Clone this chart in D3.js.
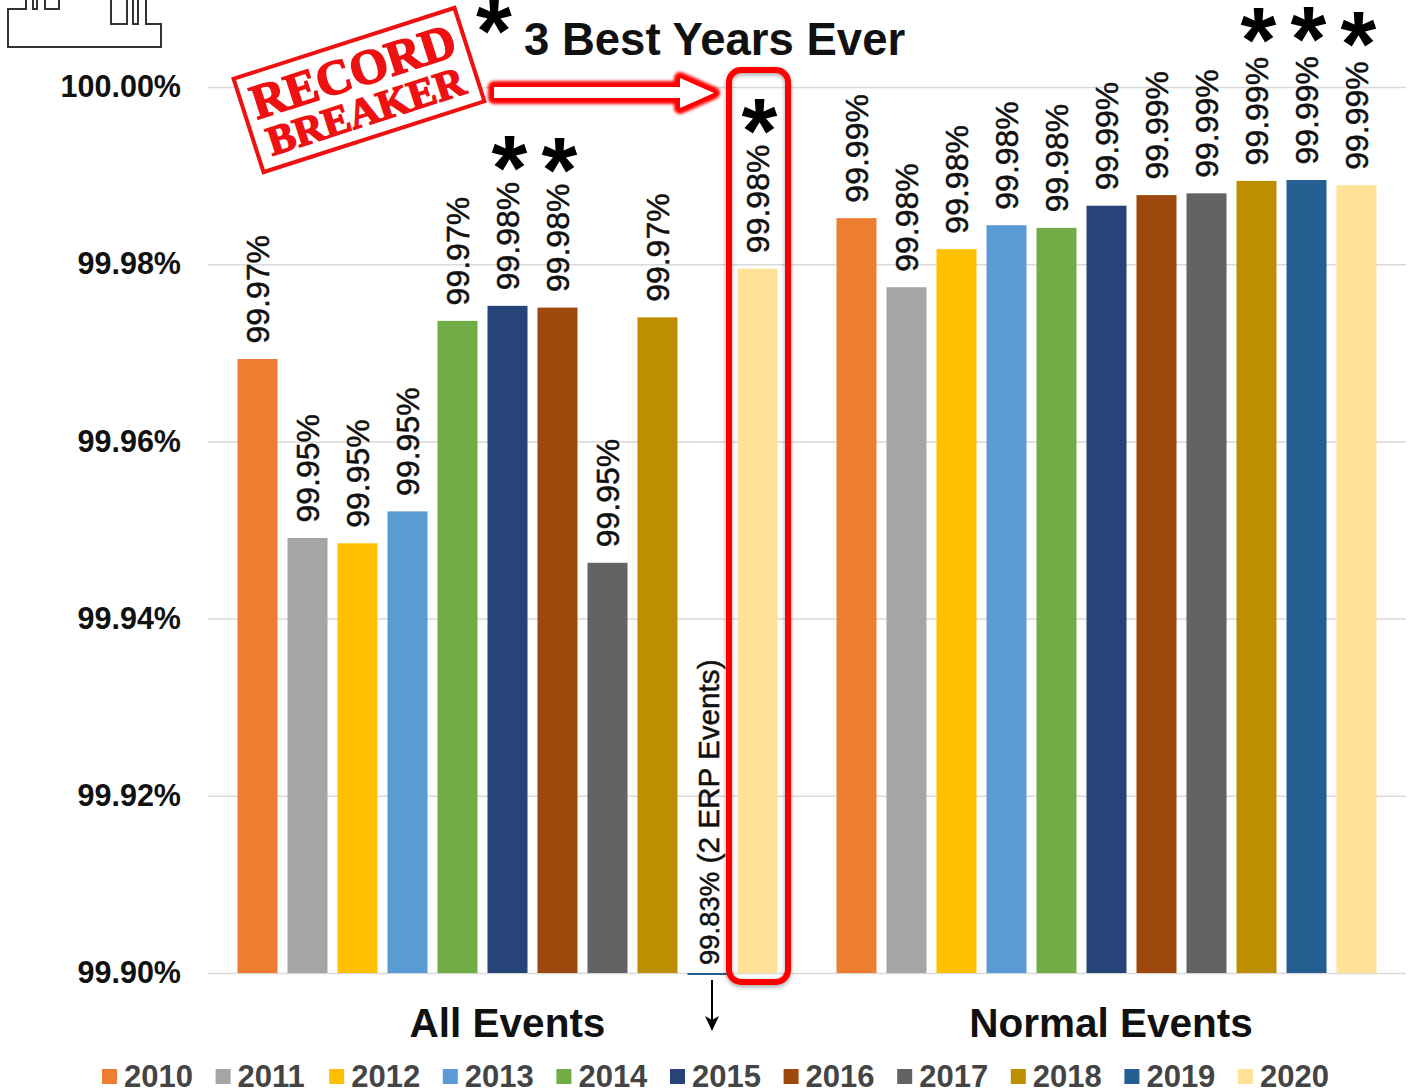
<!DOCTYPE html>
<html>
<head>
<meta charset="utf-8">
<script src="https://cdn.jsdelivr.net/npm/d3@7"></script>
<style>
  body { margin: 0; background: #fff; }
  text { font-family: "Liberation Sans", Arial, sans-serif; }
</style>
</head>
<body>
<script>
// categories and values
var groups = ["All Events", "Normal Events"];
var years = ["2010", "2011", "2012", "2013", "2014", "2015", "2016", "2017", "2018", "2019", "2020"];
var colors = ["#ed7d31", "#a5a5a5", "#ffc000", "#5b9bd5", "#70ad47", "#264478", "#9e480e", "#636363", "#bd8f00", "#255e91", "#ffe296"];

var allEvents = [99.9693, 99.9491, 99.9485, 99.9521, 99.9736, 99.9753, 99.9751, 99.9463, 99.9740, 99.83, 99.9795];
var normalEvents = [99.9852, 99.9774, 99.9817, 99.9844, 99.9841, 99.9866, 99.9878, 99.9880, 99.9894, 99.9895, 99.9889];

var allLabels = ["99.97%", "99.95%", "99.95%", "99.95%", "99.97%", "99.98%", "99.98%", "99.95%", "99.97%", "99.83%", "99.98%"];
var normalLabels = ["99.99%", "99.98%", "99.98%", "99.98%", "99.98%", "99.99%", "99.99%", "99.99%", "99.99%", "99.99%", "99.99%"];
var offScaleNote = " (2 ERP Events)";

var yTicks = [99.90, 99.92, 99.94, 99.96, 99.98, 100];

// which bars get a star on top
var allStars = ["2015", "2016", "2020"];
var normalStars = ["2018", "2019", "2020"];

var width = 1409, height = 1090;
var yMin = yTicks[0];

var svg = d3.select("body").append("svg")
    .attr("width", width)
    .attr("height", height)
    .style("display", "block");

var defs = svg.append("defs");
defs.append("filter").attr("id", "soft")
    .attr("x", "-20%").attr("y", "-50%").attr("width", "140%").attr("height", "200%")
    .append("feGaussianBlur").attr("stdDeviation", 1.4);
var shadow = defs.append("filter").attr("id", "shadow")
    .attr("x", "-20%").attr("y", "-5%").attr("width", "140%").attr("height", "110%");
shadow.append("feDropShadow")
    .attr("dx", 0).attr("dy", 2).attr("stdDeviation", 2)
    .attr("flood-color", "#000").attr("flood-opacity", 0.35);

var y = d3.scaleLinear().domain([yMin, 100]).range([973, 87]).clamp(true);
var x0 = d3.scaleBand().domain(groups).range([208, 1406]);
var x1 = d3.scaleBand().domain(years).range([0, x0.bandwidth()])
    .paddingInner(0.2).paddingOuter(0.59);
var color = d3.scaleOrdinal().domain(years).range(colors);

// y axis + gridlines
var axis = svg.append("g")
    .attr("transform", "translate(208,0)")
    .call(d3.axisLeft(y)
        .tickValues(yTicks)
        .tickSize(-1198)
        .tickPadding(27)
        .tickFormat(function (d) { return d3.format(".2f")(d) + "%"; }));
axis.select(".domain").remove();
axis.selectAll(".tick line").attr("stroke", "#d9d9d9").attr("stroke-width", 1.5);
axis.selectAll(".tick text")
    .attr("fill", "#111")
    .style("font-size", "30.5px")
    .style("font-weight", "bold")
    .style("font-family", "'Liberation Sans', Arial, sans-serif");

function drawGroup(name, values, labels, stars, starLift) {
    var g = svg.append("g").attr("transform", "translate(" + x0(name) + ",0)");

    g.selectAll("rect.bar")
        .data(values)
        .enter()
        .append("rect")
        .attr("class", "bar")
        .attr("x", function (d, i) { return x1(years[i]); })
        .attr("y", function (d) { return y(d); })
        .attr("width", x1.bandwidth())
        // off-scale bar still shows as a sliver on the baseline
        .attr("height", function (d) { return Math.max(y(yMin) - y(d), 2); })
        .attr("fill", function (d, i) { return color(years[i]); });

    var labelsText = g.selectAll("text.value")
        .data(values)
        .enter()
        .append("text")
        .attr("class", "value")
        .attr("transform", function (d, i) {
            var gap = d < yMin ? 8 : 15.5;
            return "translate(" + (x1(years[i]) + x1.bandwidth() / 2 + 11) + "," + (y(d) - gap) + ") rotate(-90)";
        })
        .attr("fill", "#111")
        .attr("stroke", "#111")
        .attr("stroke-width", 0.5)
        .style("font-size", function (d) { return d < yMin ? "27.5px" : "32px"; })
        .text(function (d, i) { return labels[i]; });

    labelsText.filter(function (d) { return d < yMin; })
        .append("tspan")
        .style("font-size", "29.7px")
        .text(offScaleNote);

    g.selectAll("text.star")
        .data(stars)
        .enter()
        .append("text")
        .attr("class", "star")
        .attr("x", function (d) { return x1(d) + x1.bandwidth() / 2 + 2; })
        .attr("y", function (d) { return y(values[years.indexOf(d)]) - starLift + 42; })
        .attr("text-anchor", "middle")
        .attr("fill", "#000")
        .style("font-size", "92px")
        .style("font-weight", "bold")
        .text("*");

    // group name under the bars
    svg.append("text")
        .attr("x", x0(name) + x0.bandwidth() / 2 + (name == groups[0] ? 0 : 4.5))
        .attr("y", 1037)
        .attr("text-anchor", "middle")
        .attr("fill", "#111")
        .style("font-size", "40.5px")
        .style("font-weight", "bold")
        .text(name);
}

drawGroup(groups[0], allEvents, allLabels, allStars, 148);
drawGroup(groups[1], normalEvents, normalLabels, normalStars, 151);

// legend
var legendX = d3.scalePoint().domain(years).range([102, 1238]);
var legend = svg.selectAll("g.legend")
    .data(years)
    .enter()
    .append("g")
    .attr("class", "legend")
    .attr("transform", function (d) { return "translate(" + legendX(d) + ",1069)"; });
legend.append("rect")
    .attr("width", 15)
    .attr("height", 15)
    .attr("fill", function (d) { return color(d); });
legend.append("text")
    .attr("x", 22)
    .attr("y", 18)
    .attr("fill", "#444")
    .style("font-size", "31px")
    .style("font-weight", "bold")
    .text(function (d) { return d; });

// title and its star
svg.append("text")
    .attr("x", 524)
    .attr("y", 55)
    .attr("fill", "#111")
    .style("font-size", "45.5px")
    .style("font-weight", "bold")
    .text("3 Best Years Ever");
svg.append("text")
    .attr("x", 494)
    .attr("y", 63)
    .attr("text-anchor", "middle")
    .attr("fill", "#000")
    .style("font-size", "92px")
    .style("font-weight", "bold")
    .text("*");

// red box around the 2020 bar
svg.append("rect")
    .attr("x", 729).attr("y", 70)
    .attr("width", 59).attr("height", 912)
    .attr("rx", 12)
    .attr("fill", "none")
    .attr("stroke", "#f00")
    .attr("stroke-width", 6)
    .attr("filter", "url(#shadow)");

// arrow from the stamp to the box
var arrowPath = "M494,87 L680,87 L680,78 L714,93 L680,108 L680,98 L494,98 Z";
svg.append("path").attr("d", arrowPath)
    .attr("fill", "#f00").attr("stroke", "#f00").attr("stroke-width", 12)
    .attr("stroke-linejoin", "round").attr("filter", "url(#soft)");
svg.append("path").attr("d", arrowPath).attr("fill", "#fff");

// record breaker stamp
var stamp = svg.append("g").attr("transform", "translate(359,90) rotate(-17.8)");
stamp.append("rect")
    .attr("x", -116).attr("y", -49)
    .attr("width", 232).attr("height", 98)
    .attr("fill", "#fff")
    .attr("stroke", "#ee1111")
    .attr("stroke-width", 4);
stamp.append("text")
    .attr("y", -3)
    .attr("text-anchor", "middle")
    .attr("fill", "#ee1111")
    .attr("stroke", "#ee1111")
    .attr("stroke-width", 1.6)
    .style("font-family", "'Liberation Serif', serif")
    .style("font-weight", "bold")
    .style("font-size", "49px")
    .text("RECORD");
stamp.append("text")
    .attr("y", 36)
    .attr("text-anchor", "middle")
    .attr("fill", "#ee1111")
    .attr("stroke", "#ee1111")
    .attr("stroke-width", 1.6)
    .style("font-family", "'Liberation Serif', serif")
    .style("font-weight", "bold")
    .style("font-size", "41.5px")
    .text("BREAKER");

// small down arrow under the 2019 bar
svg.append("line")
    .attr("x1", 712).attr("y1", 980)
    .attr("x2", 712).attr("y2", 1024)
    .attr("stroke", "#000").attr("stroke-width", 2);
svg.append("path")
    .attr("d", "M705,1016 L712,1020 L719,1016 L712,1031 Z")
    .attr("fill", "#000");

// factory outline, top left, cut off by the page edge
svg.append("path")
    .attr("d", "M26,0 V9 H8 V47 H161 V24 H146 V0 M127,0 V24 H111 V0 M133,0 V24 H138 V0 M33,0 V9 H37 V0 M45,0 V9 H59 V0")
    .attr("fill", "none")
    .attr("stroke", "#333")
    .attr("stroke-width", 2);
</script>
</body>
</html>
